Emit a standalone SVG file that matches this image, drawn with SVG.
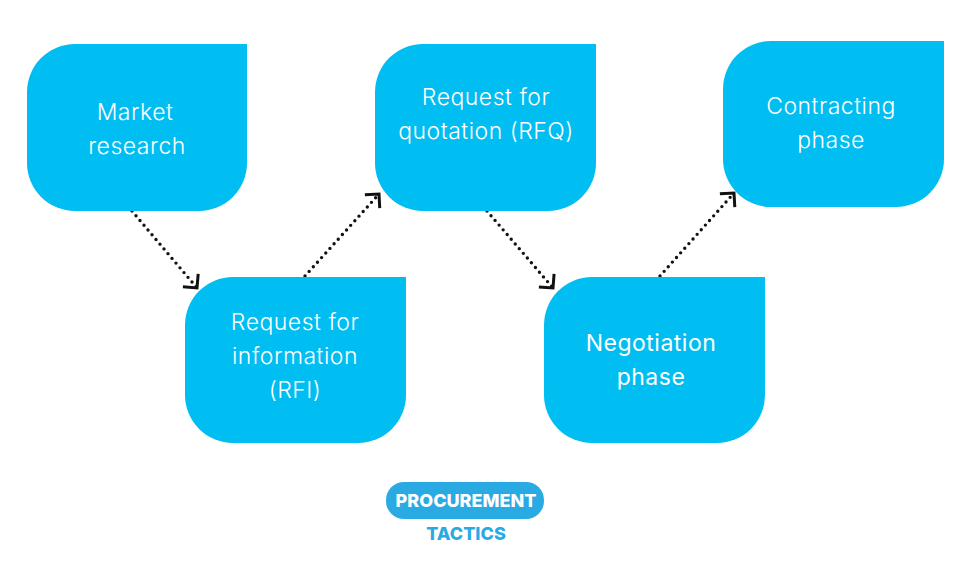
<svg xmlns="http://www.w3.org/2000/svg" width="980" height="561" viewBox="0 0 980 561">
<defs>
<style>
.node{fill:#00BDF2}
.lbl{font-family:Inter,"Open Sans",sans-serif;font-size:23px;font-weight:300;letter-spacing:0.5px;fill:#ffffff;text-anchor:middle}
.con{fill:none;stroke:#111;stroke-width:3.4;stroke-linecap:round;stroke-dasharray:0 6.2}
.logo{font-family:Inter,"Open Sans",sans-serif;font-weight:800;font-size:18px;text-anchor:middle}
</style>
<marker id="chev" markerUnits="userSpaceOnUse" viewBox="-14 -14 18 28" markerWidth="18" markerHeight="28" refX="0" refY="0" orient="auto">
<path d="M-10,-10 L0,0 L-10,10" fill="none" stroke="#111" stroke-width="3"/>
</marker>
</defs>
<rect width="980" height="561" fill="#ffffff"/>
<g id="connectors">
<line class="con" x1="132" y1="211" x2="197" y2="288" marker-end="url(#chev)"/>
<line class="con" x1="305" y1="276" x2="379" y2="194" marker-end="url(#chev)"/>
<line class="con" x1="487" y1="211" x2="553" y2="288" marker-end="url(#chev)"/>
<line class="con" x1="660" y1="276" x2="734" y2="193" marker-end="url(#chev)"/>
</g>
<g id="node-market">
<path class="node" d="M75,44 H247 V163 A48,48 0 0 1 199,211 H75 A48,48 0 0 1 27,163 V92 A48,48 0 0 1 75,44 Z"/>
<text class="lbl" x="135" y="120">Market</text>
<text class="lbl" x="137" y="154">research</text>
</g>
<g id="node-rfi">
<path class="node" d="M233,277 H406 V395 A48,48 0 0 1 358,443 H233 A48,48 0 0 1 185,395 V325 A48,48 0 0 1 233,277 Z"/>
<text class="lbl" x="295" y="330">Request for</text>
<text class="lbl" x="295" y="364">information</text>
<text class="lbl" x="295" y="398">(RFI)</text>
</g>
<g id="node-rfq">
<path class="node" d="M423,44 H596 V163 A48,48 0 0 1 548,211 H423 A48,48 0 0 1 375,163 V92 A48,48 0 0 1 423,44 Z"/>
<text class="lbl" x="486" y="105">Request for</text>
<text class="lbl" x="486" y="139">quotation (RFQ)</text>
</g>
<g id="node-negotiation">
<path class="node" d="M592,277 H765 V395 A48,48 0 0 1 717,443 H592 A48,48 0 0 1 544,395 V325 A48,48 0 0 1 592,277 Z"/>
<text class="lbl" x="651" y="351" style="font-weight:400">Negotiation</text>
<text class="lbl" x="651" y="385" style="font-weight:400">phase</text>
</g>
<g id="node-contracting">
<path class="node" d="M771,41 H944 V159 A48,48 0 0 1 896,207 H771 A48,48 0 0 1 723,159 V89 A48,48 0 0 1 771,41 Z"/>
<text class="lbl" x="831" y="114">Contracting</text>
<text class="lbl" x="831" y="148">phase</text>
</g>
<g id="logo">
<rect x="386" y="482" width="158" height="37" rx="18" fill="#2AAAE2"/>
<text class="logo" x="466" y="507" fill="#ffffff">PROCUREMENT</text>
<text class="logo" x="466" y="540" fill="#2AAAE2">TACTICS</text>
</g>
</svg>
